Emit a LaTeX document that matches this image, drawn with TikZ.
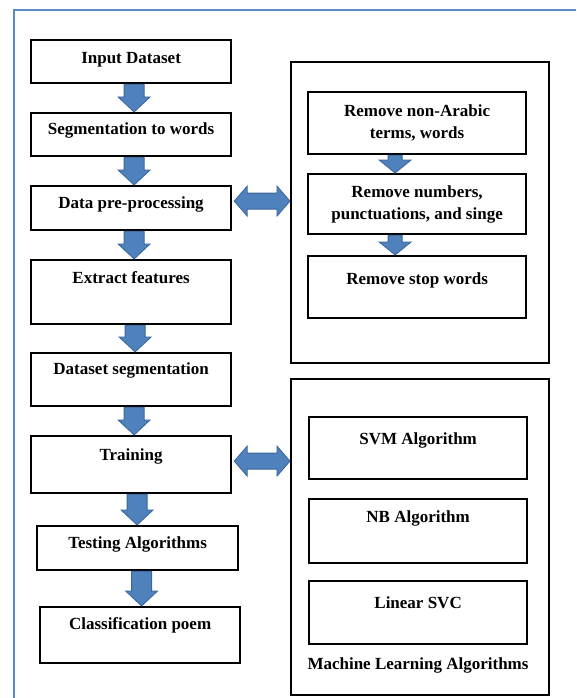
\documentclass[tikz,border=0pt]{standalone}
\usepackage{fontspec}
\setmainfont{Liberation Serif}
\usetikzlibrary{calc}

\definecolor{arrowblue}{HTML}{4F81BD}
\definecolor{arrowedge}{HTML}{3A6699}
\definecolor{framecol}{HTML}{5B8AC6}

\begin{document}
\begin{tikzpicture}[
  x = 1pt,
  y = -1pt,
  box/.style = {
    draw,
    line width = 2.2pt,
    inner sep = 0pt,
    anchor = north west,
    align = center,
    font = \fontsize{17}{22}\selectfont\bfseries
  },
  wh/.style 2 args = {
    minimum width = #1pt,
    minimum height = #2pt
  },
  lift/.style = {
    text height = 11.5pt,
    text depth = #1pt
  },
  group/.style = {
    draw,
    line width = 2.2pt,
    inner sep = 0pt,
    anchor = north west
  },
  flow/.style = {
    fill = arrowblue,
    draw = arrowedge,
    line width = 0.8pt,
    to path = {
      let \p1 = (\tikztostart), \p2 = (\tikztotarget) in
      (\x1-10pt,\y1) -- (\x1-10pt,\y2+15pt) -- (\x1-16pt,\y2+15pt) -- (\x1,\y2)
      -- (\x1+16pt,\y2+15pt) -- (\x1+10pt,\y2+15pt) -- (\x1+10pt,\y1) -- cycle
    }
  },
  smallflow/.style = {
    fill = arrowblue,
    draw = arrowedge,
    line width = 0.8pt,
    to path = {
      let \p1 = (\tikztostart), \p2 = (\tikztotarget) in
      (\x1-7pt,\y1) -- (\x1-7pt,\y2+13pt) -- (\x1-16pt,\y2+13pt) -- (\x1,\y2)
      -- (\x1+16pt,\y2+13pt) -- (\x1+7pt,\y2+13pt) -- (\x1+7pt,\y1) -- cycle
    }
  },
  twoway/.style = {
    fill = arrowblue,
    draw = arrowedge,
    line width = 0.8pt,
    to path = {
      let \p1 = (\tikztostart), \p2 = (\tikztotarget) in
      (\x1,\y1) -- (\x1+13pt,\y1+15pt) -- (\x1+13pt,\y1+8pt) -- (\x2-13pt,\y1+8pt)
      -- (\x2-13pt,\y1+15pt) -- (\x2,\y1) -- (\x2-13pt,\y1-15pt) -- (\x2-13pt,\y1-8pt)
      -- (\x1+13pt,\y1-8pt) -- (\x1+13pt,\y1-15pt) -- cycle
    }
  }
]
  \useasboundingbox (0,0) rectangle (576,698);
  \draw[framecol, line width = 2pt] (14,698) |- (576,10);

  % main steps
  \node[box, wh = {200}{43}, lift = 7.4] (inp) at (30,39) {Input Dataset};
  \node[box, wh = {200}{43}, lift = 11.4] (seg) at (30,112) {Segmentation to words};
  \node[box, wh = {200}{44}, lift = 10.4] (dpp) at (30,185) {Data pre-processing};
  \node[box, wh = {200}{64}, lift = 28.4] (ext) at (30,259) {Extract features};
  \node[box, wh = {200}{53}, lift = 21.4] (dss) at (30,352) {Dataset segmentation};
  \node[box, wh = {200}{57}, lift = 19.4] (trn) at (30,435) {Training};
  \node[box, wh = {201}{44}, lift = 10.4] (tst) at (36,525) {Testing Algorithms};
  \node[box, wh = {200}{56}, lift = 22.4] (cls) at (39,606) {Classification poem};

  \draw[flow] ([xshift = 3pt]inp.south) to (seg.north);
  \draw[flow] ([xshift = 3pt]seg.south) to (dpp.north);
  \draw[flow] ([xshift = 3pt]dpp.south) to (ext.north);
  \draw[flow] ([xshift = 4pt]ext.south) to (dss.north);
  \draw[flow] ([xshift = 3pt]dss.south) to (trn.north);
  \draw[flow] ([xshift = 6pt]trn.south) to (tst.north);
  \draw[flow] ([xshift = 4pt]tst.south) to (cls.north);

  % pre-processing
  \node[group, wh = {258}{301}] (prep) at (290,61) {};
  \node[box, wh = {218}{62}] (rna) at (307,91) {Remove non-Arabic\\terms, words};
  \node[box, wh = {218}{60}] (rnum) at (307,173) {Remove numbers,\\punctuations, and singe};
  \node[box, wh = {218}{62}, lift = 16.4] (rsw) at (307,255) {Remove stop words};

  \draw[smallflow] ([xshift = -22pt]rna.south) to (rnum.north);
  \draw[smallflow] ([xshift = -22pt]rnum.south) to (rsw.north);

  % algorithms
  \node[group, wh = {258}{316}] (mlg) at (290,378) {};
  \node[box, wh = {218}{62}, lift = 18.4] (svm) at (308,416) {SVM Algorithm};
  \node[box, wh = {218}{64}, lift = 28.4] (nb) at (308,498) {NB Algorithm};
  \node[box, wh = {218}{63}, lift = 19.4] (lsvc) at (308,580) {Linear SVC};
  \node[font = \fontsize{17}{22}\selectfont\bfseries] (mlt) at (418,665) {Machine Learning Algorithms};

  \draw[twoway] ([xshift = 2pt, yshift = 7pt]dpp.east) to ([yshift = 7pt]dpp.east -| prep.west);
  \draw[twoway] ([xshift = 2pt, yshift = 3.5pt]trn.east) to ([yshift = 3.5pt]trn.east -| mlg.west);
\end{tikzpicture}
\end{document}
